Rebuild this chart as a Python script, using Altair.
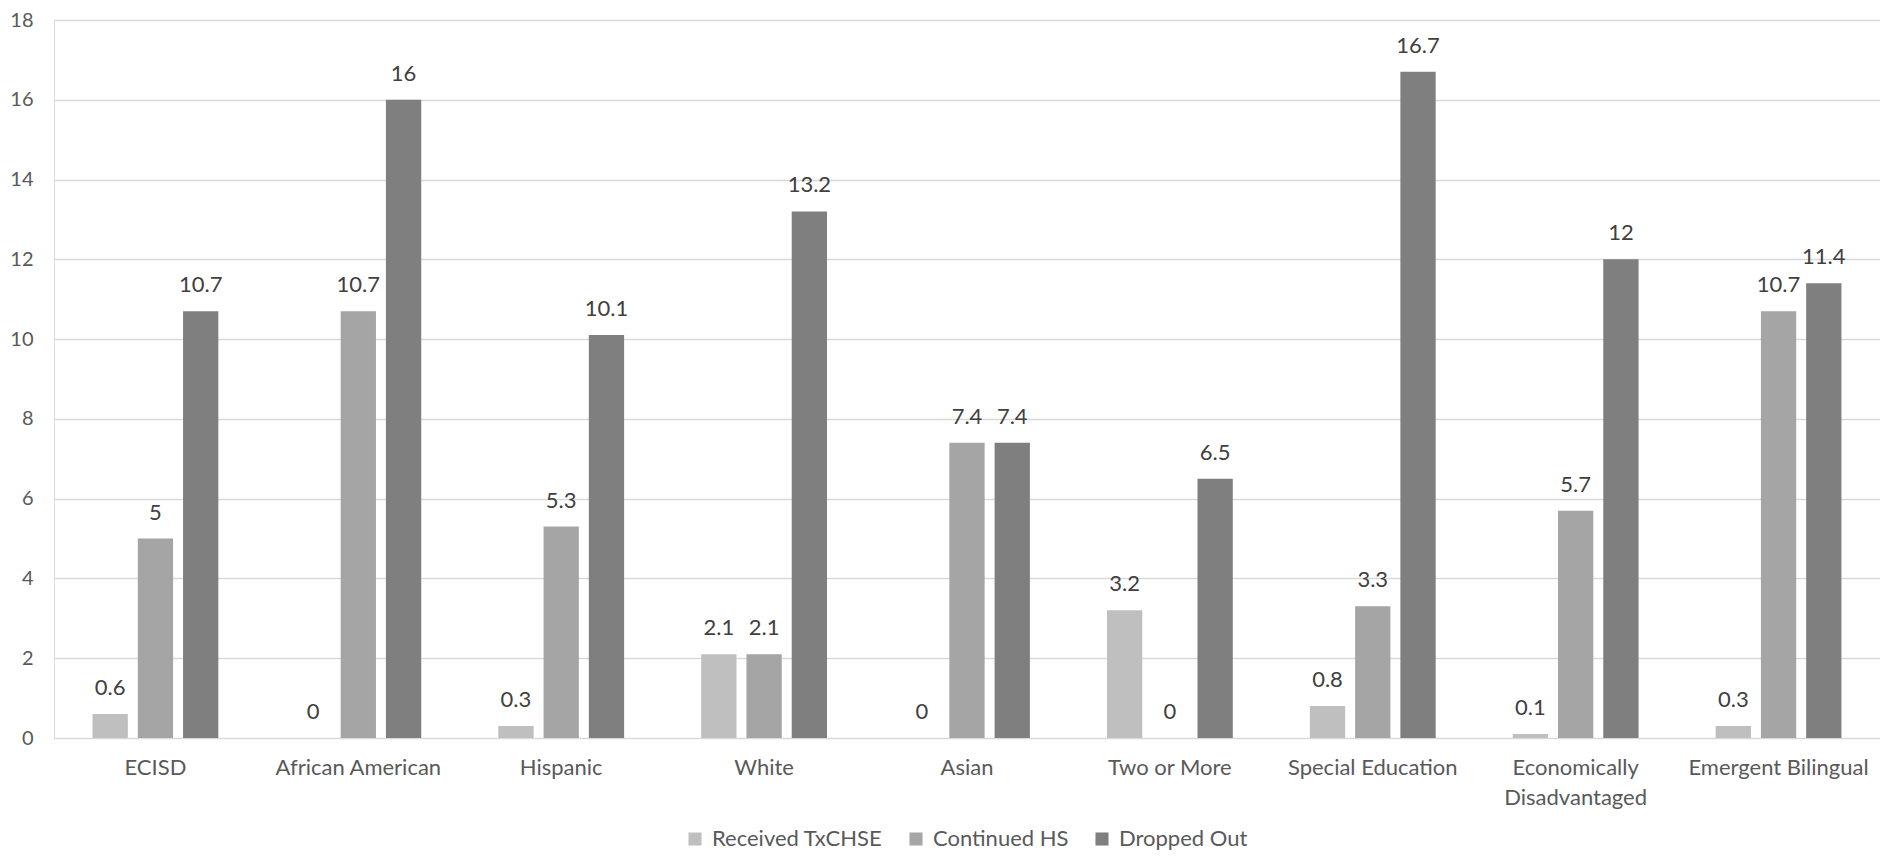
import altair as alt
import pandas as pd

categories = ["ECISD", "African American", "Hispanic", "White", "Asian",
              "Two or More", "Special Education", "Economically Disadvantaged",
              "Emergent Bilingual"]
series = ["Received TxCHSE", "Continued HS", "Dropped Out"]
received = [0.6, 0, 0.3, 2.1, 0, 3.2, 0.8, 0.1, 0.3]
continued = [5, 10.7, 5.3, 2.1, 7.4, 0, 3.3, 5.7, 10.7]
dropped = [10.7, 16, 10.1, 13.2, 7.4, 6.5, 16.7, 12, 11.4]
colors = ["#bfbfbf", "#a5a5a5", "#7f7f7f"]
y_ticks = list(range(0, 19, 2))

rows = []
for i, c in enumerate(categories):
    for s, vals in zip(series, [received, continued, dropped]):
        rows.append({"Category": c, "Series": s, "Value": vals[i],
                     "Label": f"{vals[i]:g}"})
df = pd.DataFrame(rows)

FONT = "Lato"
TXT = "#595959"
FS = 22

x = alt.X("Category:N", sort=categories, title=None,
          scale=alt.Scale(paddingInner=0.38, paddingOuter=0.19),
          axis=alt.Axis(labelAngle=0, domain=False, ticks=False,
                        labelPadding=19, labelFontSize=FS, labelFont=FONT,
                        labelColor=TXT, labelLineHeight=30, labelBaseline="top",
                        labelLimit=400,
                        labelExpr="datum.label == 'Economically Disadvantaged' ? ['Economically', 'Disadvantaged'] : datum.label"))
xo = alt.XOffset("Series:N", sort=series,
                 scale=alt.Scale(paddingInner=0.22, paddingOuter=0))
y = alt.Y("Value:Q", title=None,
          scale=alt.Scale(domain=[0, 18], nice=False),
          axis=alt.Axis(values=y_ticks, domain=False, ticks=False,
                        labelPadding=21, labelFontSize=20, labelFont=FONT,
                        labelColor=TXT, gridColor="#d9d9d9", gridWidth=1.4))
color = alt.Color("Series:N", sort=series,
                  scale=alt.Scale(domain=series, range=colors),
                  legend=alt.Legend(title=None, orient="none", direction="horizontal",
                                    legendX=630, legendY=808, symbolType="square",
                                    symbolSize=170, symbolStrokeWidth=0,
                                    labelFontSize=FS, labelFont=FONT, labelColor=TXT,
                                    labelLimit=400, columnPadding=22, labelOffset=6))

bars = alt.Chart(df).mark_bar().encode(x=x, xOffset=xo, y=y, color=color)
labels = alt.Chart(df).mark_text(font=FONT, fontSize=FS, color="#404040",
                                 baseline="middle", dy=-26).encode(
    x=x, xOffset=xo, y=y, text="Label:N")

chart = (bars + labels).properties(
    width=1826, height=718,
    autosize=alt.AutoSizeParams(type="none"),
    padding={"left": 46, "top": 12, "right": 0, "bottom": 120},
).configure_view(stroke=None).configure(background="white")

chart.save("out.html", embed_options={"renderer": "svg", "actions": False})
